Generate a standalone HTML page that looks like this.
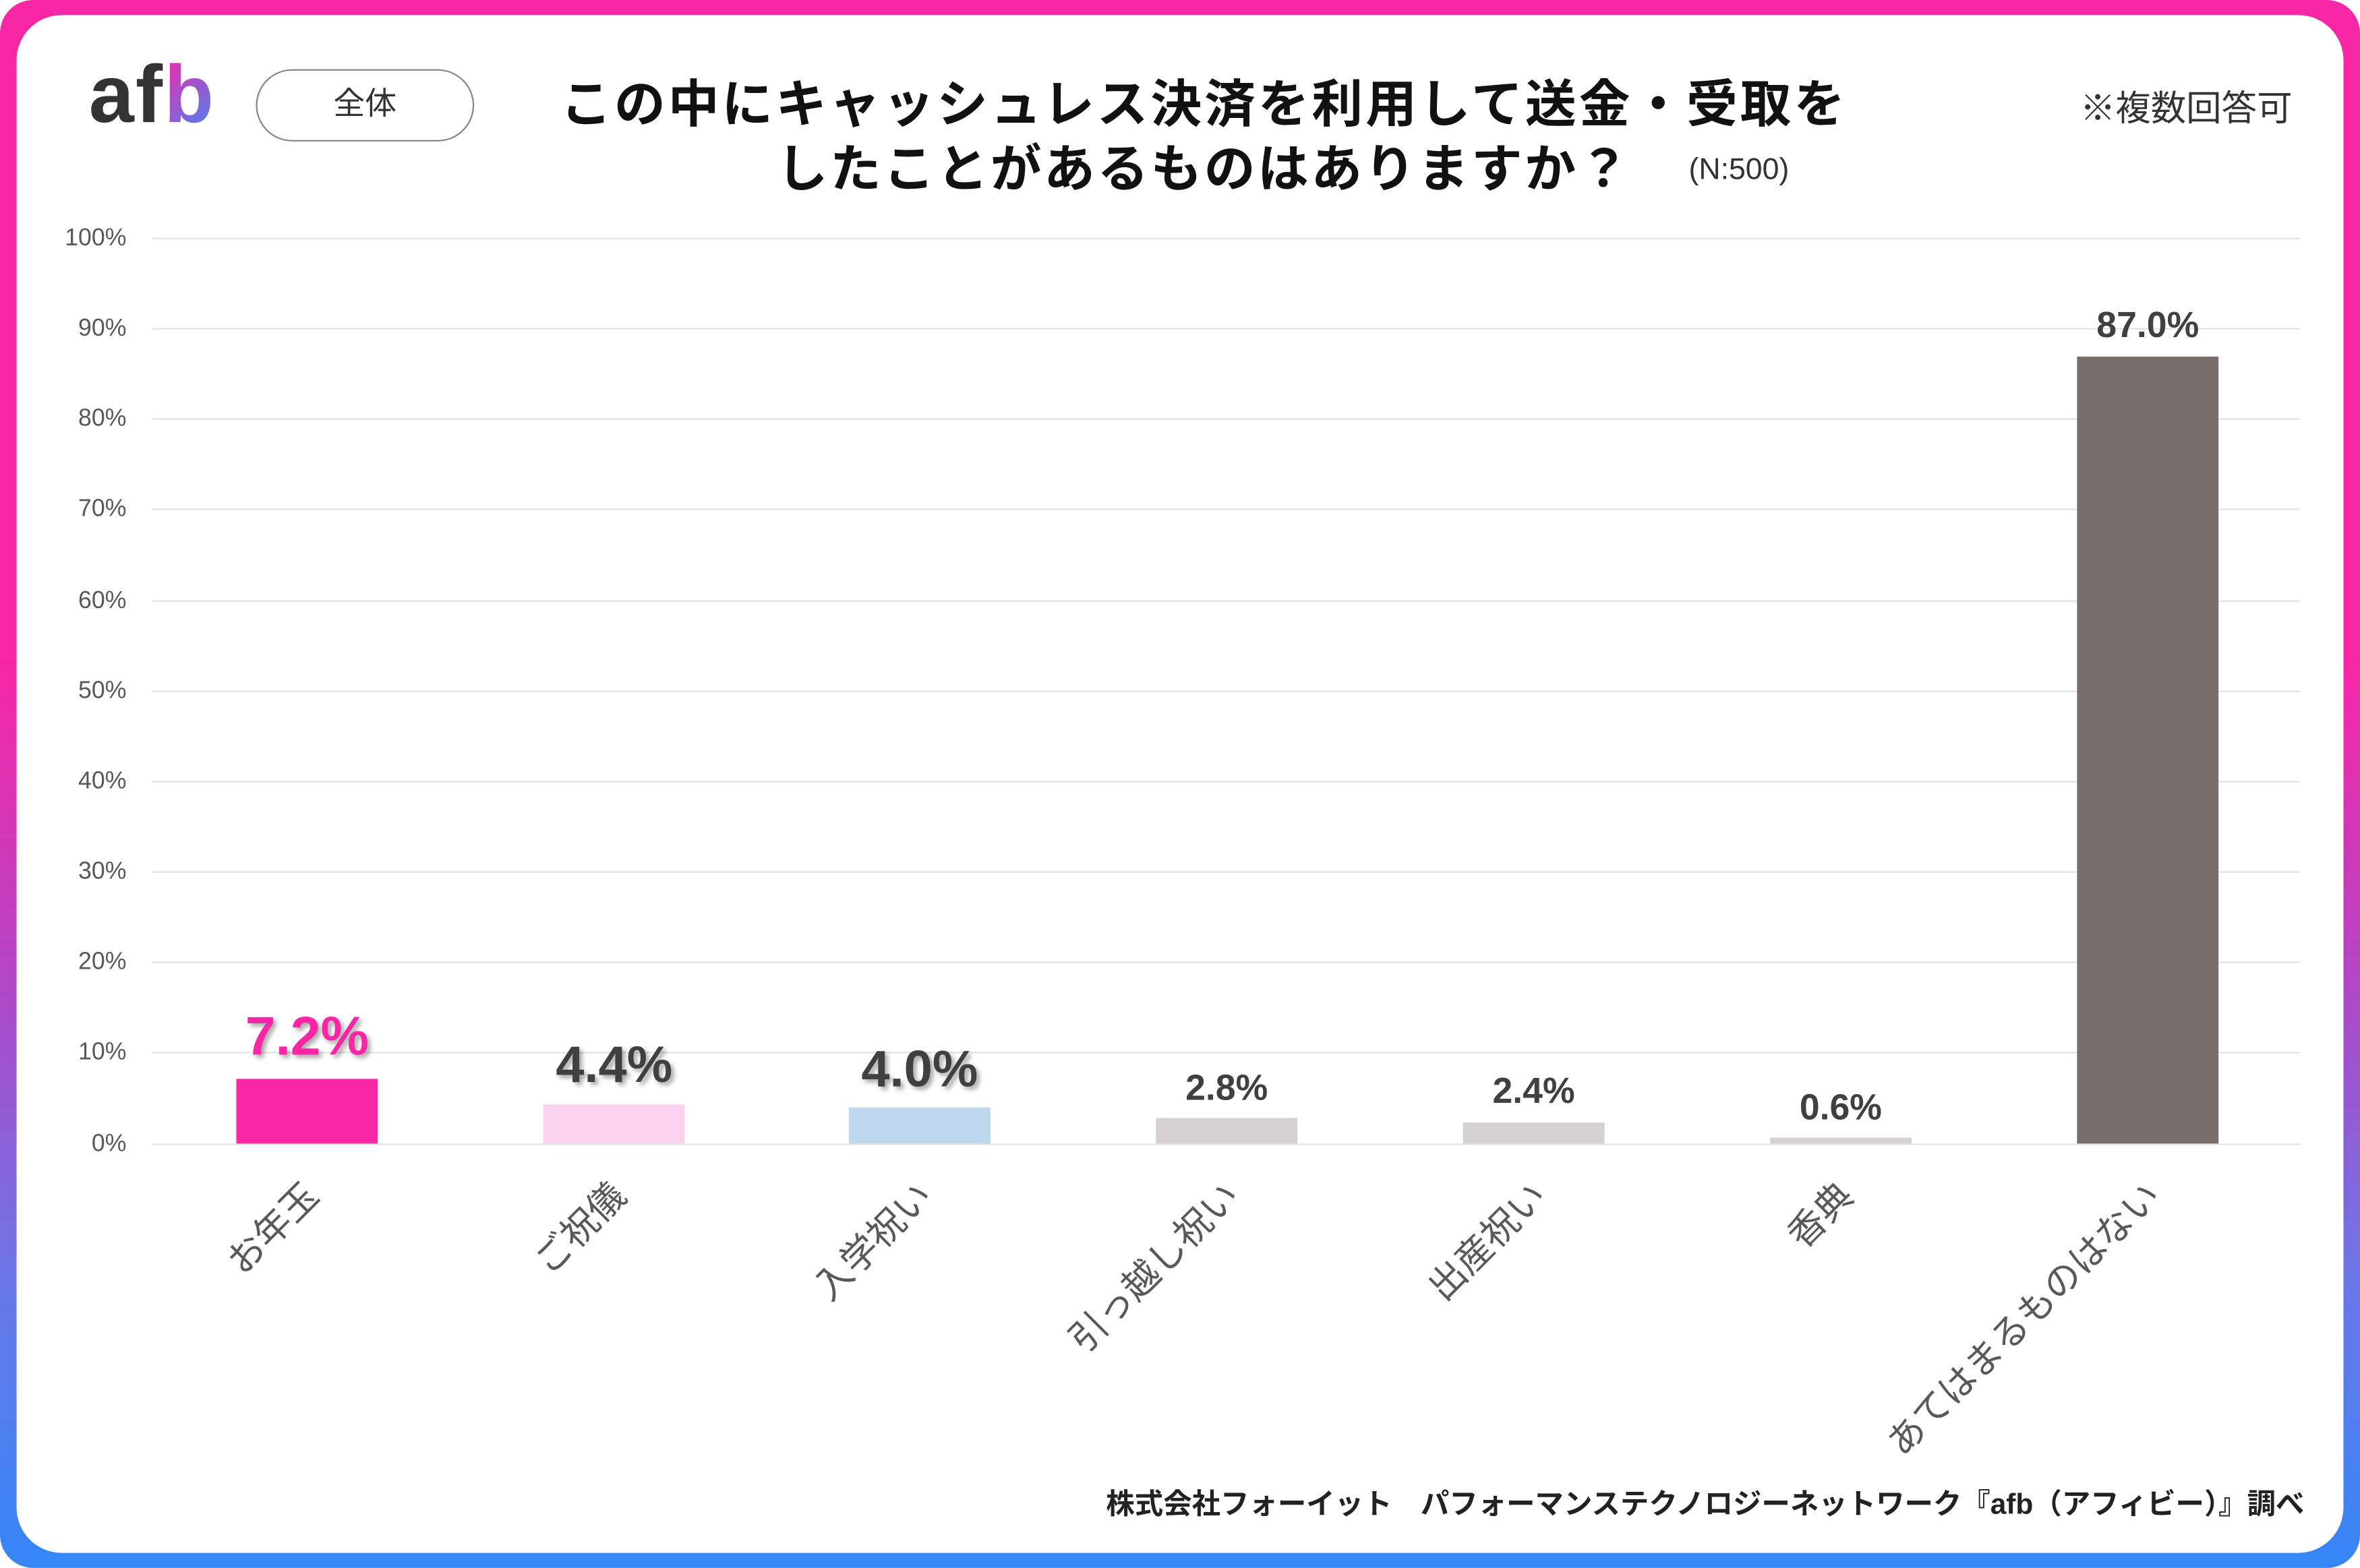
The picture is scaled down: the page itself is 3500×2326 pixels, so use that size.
<!DOCTYPE html>
<html><head><meta charset="utf-8"><style>
html,body{margin:0;padding:0;width:3500px;height:2325px;overflow:hidden;background:#fff}
#s{position:absolute;left:0;top:0;width:1568px;height:1042px;transform:scale(2.23214);transform-origin:0 0;font-family:"Liberation Sans","Noto Sans CJK JP",sans-serif}
.frame{position:absolute;left:0;top:0;width:1568px;height:1042px;border-radius:22px;background:linear-gradient(to bottom,#f926a6 0%,#f926a6 42%,#b445c4 62%,#6a77e8 82%,#3586f8 100%)}
.inner{position:absolute;left:11px;top:10px;width:1546px;height:1022px;border-radius:30px;background:#fff}
.a{position:absolute;white-space:nowrap}
.grid{position:absolute;left:101px;width:1427px;height:1px;background:#e3e3e3}
.yl{position:absolute;width:60px;left:24px;text-align:right;font-size:16px;color:#595959}
.bar{position:absolute;width:94px}
.v{position:absolute;width:200px;text-align:center;font-weight:bold;color:#404040}
.cat{position:absolute;font-size:24.5px;color:#595959;transform-origin:100% 50%;transform:rotate(-45deg);text-align:right;white-space:nowrap}
</style></head><body><div id="s">
<div class="frame"></div><div class="inner"></div>
<div class="a" style="left:59px;top:32px;font-size:54px;font-weight:bold;color:#333;letter-spacing:1px">af<span style="background:linear-gradient(135deg,#f926a6,#3a8af5);-webkit-background-clip:text;background-clip:text;color:transparent">b</span></div>
<div class="a" style="left:170px;top:46px;width:143px;height:46px;border:1px solid #888;border-radius:24px;text-align:center;line-height:46px;font-size:21px;color:#333">全体</div>
<div class="a" style="left:300px;top:42px;width:1000px;text-align:center;font-size:34px;font-weight:bold;color:#111;letter-spacing:1.7px">この中にキャッシュレス決済を利用して送金・受取を</div>
<div class="a" style="left:300px;top:85px;width:1000px;text-align:center;font-size:34px;font-weight:bold;color:#111;letter-spacing:1.5px">したことがあるものはありますか？</div>
<div class="a" style="left:1122px;top:102px;font-size:20px;color:#333">(N:500)</div>
<div class="a" style="right:45px;top:53px;font-size:23.5px;color:#333">※複数回答可</div>

<div class="grid" style="top:158px"></div><div class="grid" style="top:218px"></div><div class="grid" style="top:278px"></div><div class="grid" style="top:338px"></div><div class="grid" style="top:399px"></div><div class="grid" style="top:459px"></div><div class="grid" style="top:519px"></div><div class="grid" style="top:579px"></div><div class="grid" style="top:639px"></div><div class="grid" style="top:699px"></div><div class="grid" style="top:760px"></div>
<div class="yl" style="top:150px">100%</div><div class="yl" style="top:210px">90%</div><div class="yl" style="top:270px">80%</div><div class="yl" style="top:330px">70%</div><div class="yl" style="top:391px">60%</div><div class="yl" style="top:451px">50%</div><div class="yl" style="top:511px">40%</div><div class="yl" style="top:571px">30%</div><div class="yl" style="top:631px">20%</div><div class="yl" style="top:691px">10%</div><div class="yl" style="top:752px">0%</div>

<div class="bar" style="left:157px;top:717px;height:43px;background:#f926a6"></div>
<div class="bar" style="left:361px;top:734px;height:26px;background:#fbd3f0"></div>
<div class="bar" style="left:564px;top:736px;height:24px;background:#bdd7ee"></div>
<div class="bar" style="left:768px;top:743px;height:17px;background:#d5d0d1"></div>
<div class="bar" style="left:972px;top:746px;height:14px;background:#d5d0d1"></div>
<div class="bar" style="left:1176px;top:756px;height:4px;background:#d5d0d1"></div>
<div class="bar" style="left:1380px;top:237px;height:523px;background:#786e6c"></div>

<div class="v" style="left:104px;top:668px;font-size:36px;color:#f926a6;text-shadow:2px 2px 3px rgba(0,0,0,.35)">7.2%</div>
<div class="v" style="left:308px;top:689px;font-size:34px;text-shadow:2px 2px 3px rgba(0,0,0,.35)">4.4%</div>
<div class="v" style="left:511px;top:692px;font-size:34px;text-shadow:2px 2px 3px rgba(0,0,0,.35)">4.0%</div>
<div class="v" style="left:715px;top:710px;font-size:24px">2.8%</div>
<div class="v" style="left:919px;top:712px;font-size:24px">2.4%</div>
<div class="v" style="left:1123px;top:723px;font-size:24px">0.6%</div>
<div class="v" style="left:1327px;top:203px;font-size:24px">87.0%</div>

<div class="cat" style="right:1362px;top:772px">お年玉</div>
<div class="cat" style="right:1158px;top:772px">ご祝儀</div>
<div class="cat" style="right:954px;top:772px">入学祝い</div>
<div class="cat" style="right:750px;top:772px">引っ越し祝い</div>
<div class="cat" style="right:546px;top:772px">出産祝い</div>
<div class="cat" style="right:342px;top:772px">香典</div>
<div class="cat" style="right:138px;top:772px">あてはまるものはない</div>

<div class="a" style="right:37px;top:985px;font-size:19px;font-weight:bold;color:#222">株式会社フォーイット　パフォーマンステクノロジーネットワーク『afb（アフィビー）』調べ</div>
</div></body></html>
